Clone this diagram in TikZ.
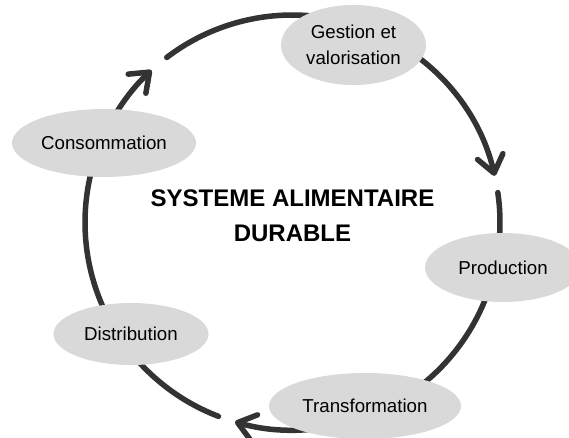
\documentclass[tikz,border=0pt]{standalone}
\usepackage{fontspec}
\setmainfont{Liberation Sans}
\usetikzlibrary{arrows.meta,shapes.geometric,backgrounds}
\definecolor{Bubble}{HTML}{D9D9D9}
\definecolor{Ring}{HTML}{333333}

\begin{document}
\begin{tikzpicture}[x=1pt,y=1pt,font=\fontsize{18.7}{26.6}\selectfont,
    >={Straight Barb[length=17pt,width=26pt,round]},
    bubble/.style={ellipse,fill=Bubble,inner sep=0pt,align=center},
    ring/.style={draw=Ring,line width=5.5pt,line cap=round}]
        \useasboundingbox (0,0) rectangle (569,437);
        \coordinate (hub) at (292.5,214.5);
        \node[bubble,minimum width=145pt,minimum height=80pt] (gest) at (353.5,392) {Gestion et\\valorisation};
        \node[bubble,minimum width=156pt,minimum height=69pt] (prod) at (503,169.5) {Production};
        \node[bubble,minimum width=192pt,minimum height=66pt] (trans) at (365,31) {Transformation};
        \node[bubble,minimum width=155pt,minimum height=62pt] (dist) at (131,103) {Distribution};
        \node[bubble,minimum width=184pt,minimum height=68pt] (cons) at (104,294) {Consommation};
        \node[font=\bfseries\fontsize{24}{35}\selectfont,align=center] (title) at (292.5,221) {SYSTEME ALIMENTAIRE\\DURABLE};
        % ring pieces, kept under the bubbles
        \begin{scope}[on background layer]
          \draw[ring,->] ([shift={(71:207.5)}]hub) arc[start angle=71,end angle=13,radius=207.5];
          \draw[ring] ([shift={(8.3:207.5)}]hub) arc[start angle=8.3,end angle=-12,radius=207.5];
          \draw[ring] ([shift={(-12:207.5)}]hub) arc[start angle=-12,end angle=-68.4,radius=207.5];
          \draw[ring,->] ([shift={(-68.4:207.5)}]hub) arc[start angle=-68.4,end angle=-106.1,radius=207.5];
          \draw[ring] ([shift={(-110.9:207.5)}]hub) arc[start angle=-110.9,end angle=-145.4,radius=207.5];
          \draw[ring] ([shift={(214.6:207.5)}]hub) arc[start angle=214.6,end angle=157.1,radius=207.5];
          \draw[ring,->] ([shift={(157.1:207.5)}]hub) arc[start angle=157.1,end angle=132.8,radius=207.5];
          \draw[ring] ([shift={(127.3:207.5)}]hub) arc[start angle=127.3,end angle=71,radius=207.5];
        \end{scope}
      \end{tikzpicture}
\end{document}
